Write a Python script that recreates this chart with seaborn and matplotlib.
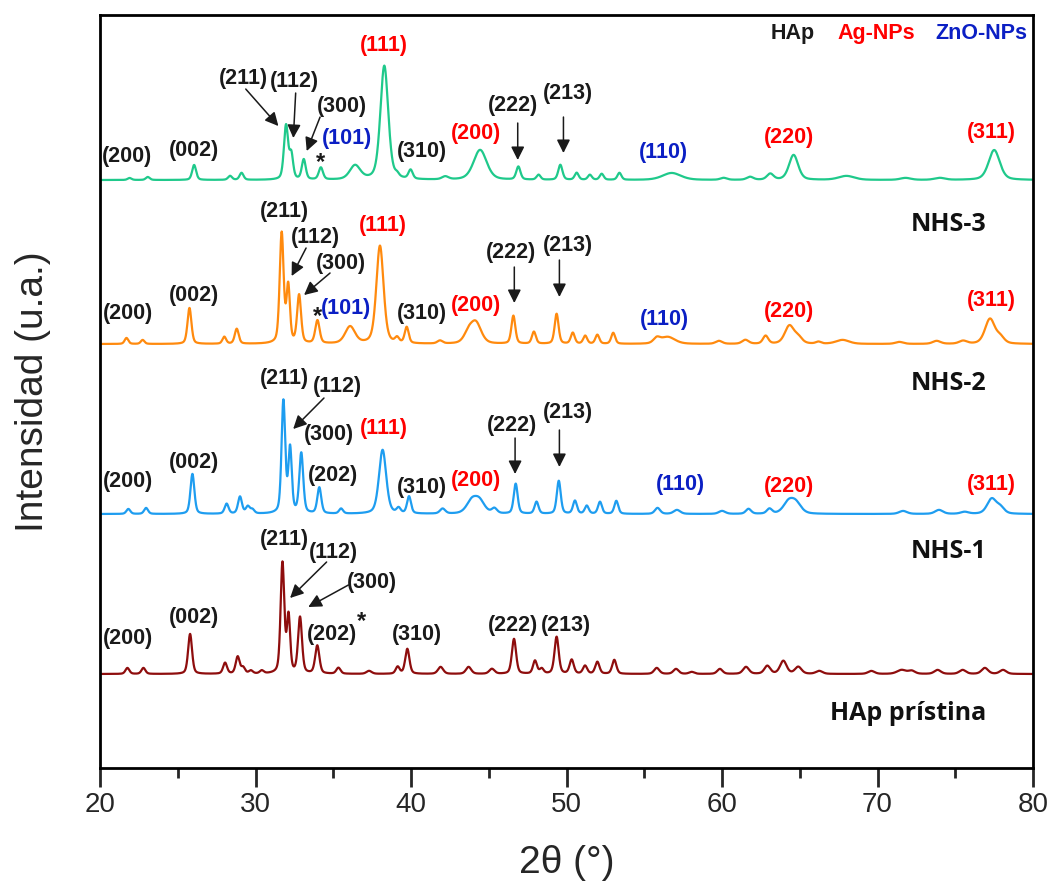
import numpy as np
import pandas as pd
import seaborn as sns
import matplotlib.pyplot as plt

# peak tables: position (2theta), height, FWHM
# intensity in arbitrary units, each trace shifted by its offset
nhs3_pos = [21.9, 23.07, 26.05, 28.36, 29.1, 31.96, 32.3, 33.1, 34.2, 36.4, 38.28, 39.1, 39.97, 42.2,
            44.44, 46.9, 48.2, 49.6, 50.65, 51.5, 52.26, 53.4, 56.76, 60.1, 61.8, 63.1, 64.6, 68.0,
            71.8, 74.0, 77.5]
nhs3_h = [2, 3, 15, 4, 7, 54, 24, 20, 12, 14, 114, 3, 9, 3, 30, 13, 5, 15, 7, 5, 6, 7, 7, 2, 3, 6,
          25, 4, 2, 2, 30]
nhs3_w = [0.3, 0.3, 0.3, 0.3, 0.3, 0.32, 0.28, 0.3, 0.32, 0.8, 0.6, 0.3, 0.32, 0.5, 1.0, 0.32,
          0.3, 0.32, 0.3, 0.3, 0.3, 0.3, 1.4, 0.5, 0.5, 0.5, 0.7, 1.2, 0.8, 0.8, 0.85]

nhs2_pos = [21.7, 22.74, 25.75, 27.99, 28.79, 31.68, 32.1, 32.8, 33.98, 36.08, 38.0, 39.1, 39.72,
            41.86, 43.7, 44.18, 46.58, 47.9, 49.36, 50.4, 51.2, 51.98, 53.0, 55.8, 56.5, 59.8,
            61.5, 62.8, 64.33, 64.9, 66.2, 67.75, 71.4, 73.8, 75.5, 77.23, 77.9]
nhs2_h = [6, 4, 36, 7, 15, 110, 56, 48, 23, 17, 98, 5, 16, 3, 10, 20, 28, 12, 30, 11, 8, 9, 11,
          5, 7, 3, 4, 8, 18, 6, 2, 4, 2, 3, 3, 25, 6]
nhs2_w = [0.28, 0.28, 0.3, 0.28, 0.3, 0.3, 0.26, 0.3, 0.33, 0.75, 0.55, 0.3, 0.3, 0.4, 0.7, 0.8,
          0.3, 0.3, 0.3, 0.3, 0.3, 0.3, 0.3, 0.5, 1.1, 0.5, 0.5, 0.4, 0.7, 0.6, 0.4, 1.0,
          0.6, 0.6, 0.6, 0.75, 0.6]

nhs1_pos = [21.82, 22.96, 25.94, 28.14, 29.0, 29.5, 29.8, 31.79, 32.22, 32.94, 34.1, 35.5, 38.17,
            39.2, 39.87, 42.03, 43.9, 44.4, 45.36, 46.73, 48.07, 49.5, 50.54, 51.3, 52.15, 53.2,
            55.85, 57.1, 60.0, 61.7, 63.05, 64.27, 64.75, 71.64, 73.95, 75.6, 77.34, 77.9]
nhs1_h = [5, 6, 40, 10, 17, 7, 4, 112, 64, 60, 26, 5, 64, 5, 17, 5, 12, 12, 5, 30, 12, 33, 13, 8,
          12, 13, 6, 4, 3, 5, 5, 11, 10, 3, 4, 2, 15, 6]
nhs1_w = [0.3, 0.3, 0.3, 0.3, 0.3, 0.3, 0.3, 0.28, 0.26, 0.3, 0.3, 0.3, 0.55, 0.3, 0.3, 0.4, 0.8,
          0.8, 0.4, 0.3, 0.3, 0.3, 0.3, 0.3, 0.3, 0.3, 0.4, 0.5, 0.5, 0.4, 0.4, 0.8, 0.8, 0.6,
          0.6, 0.6, 0.7, 0.6]

hap_pos = [21.76, 22.79, 25.79, 28.04, 28.85, 29.2, 29.7, 30.4, 31.73, 32.12, 32.86, 33.97, 35.33,
           37.3, 39.14, 39.76, 41.9, 43.7, 45.2, 46.62, 47.97, 48.4, 49.36, 50.33, 51.19, 51.98,
           53.07, 55.8, 57.04, 58.05, 59.86, 61.54, 62.91, 63.94, 64.9, 66.25, 69.6, 71.55, 72.2,
           73.86, 75.47, 76.9, 78.07]
hap_h = [6, 6, 40, 11, 17, 6, 3, 3, 110, 56, 56, 28, 6, 3, 7, 25, 7, 7, 5, 35, 13, 5, 37, 14, 8,
         12, 14, 6, 5, 2, 5, 7, 8, 13, 7, 3, 3, 4, 3, 4, 4, 6, 4]
hap_w = [0.3, 0.3, 0.3, 0.3, 0.3, 0.3, 0.3, 0.3, 0.28, 0.25, 0.3, 0.32, 0.32, 0.4, 0.3, 0.32,
         0.4, 0.4, 0.4, 0.32, 0.3, 0.3, 0.32, 0.32, 0.32, 0.32, 0.32, 0.4, 0.4, 0.4, 0.4, 0.45,
         0.45, 0.5, 0.5, 0.5, 0.5, 0.7, 0.5, 0.5, 0.5, 0.5, 0.5]

offsets = {"NHS-3": 588, "NHS-2": 424, "NHS-1": 254, "HAp prístina": 94}
colors = {"NHS-3": "#1fc98b", "NHS-2": "#ff8a0e", "NHS-1": "#1e9df0", "HAp prístina": "#8e0d0d"}

RED = "#ff0000"
BLUE = "#0b1fc4"


def profile(x, pos, h, w):
    # pseudo-voigt sum
    y = np.zeros_like(x)
    for p, a, f in zip(pos, h, w):
        g = np.exp(-4 * np.log(2) * ((x - p) / f) ** 2)
        l = 1.0 / (1.0 + (2 * (x - p) / f) ** 2)
        y += a * (0.6 * g + 0.4 * l)
    return y


x = np.linspace(20, 80, 6001)
traces = {"NHS-3": (nhs3_pos, nhs3_h, nhs3_w),
          "NHS-2": (nhs2_pos, nhs2_h, nhs2_w),
          "NHS-1": (nhs1_pos, nhs1_h, nhs1_w),
          "HAp prístina": (hap_pos, hap_h, hap_w)}

sns.set_theme(style="ticks")
plt.rcParams['font.family'] = ['Liberation Sans', 'DejaVu Sans']

fig = plt.figure(figsize=(10.52, 8.85), dpi=100)
ax = fig.add_axes([0.0951, 0.1322, 0.8869, 0.8508])

for name, (pos, h, w) in traces.items():
    df = pd.DataFrame({"x": x, "y": profile(x, pos, h, w) + offsets[name]})
    sns.lineplot(data=df, x="x", y="y", ax=ax, color=colors[name], lw=1.6,
                 estimator=None, sort=False)

ax.set_xlim(20, 80)
ax.set_ylim(0, 753)
ax.set_yticks([])
ax.set_xticks(np.arange(20, 81, 10))
ax.set_xticks(np.arange(25, 80, 10), minor=True)
ax.tick_params(axis='x', which='major', length=14, width=2, labelsize=20, pad=3)
ax.tick_params(axis='x', which='minor', length=7, width=2, bottom=True)
for s in ax.spines.values():
    s.set_linewidth(2)
    s.set_color('black')
ax.set_xlabel("2θ (°)", fontsize=28, labelpad=20)
ax.set_ylabel("Intensidad (u.a.)", fontsize=28, labelpad=35)

lab = dict(fontsize=15.5, fontweight='bold', ha='center', va='center')

# peak labels: (text, x, y, color)
peak_labels = [
    # NHS-3
    ("(200)", 21.74, 612, 'k'), ("(002)", 26.05, 618, 'k'), ("(211)", 29.2, 690, 'k'),
    ("(112)", 32.48, 687, 'k'), ("(300)", 35.56, 662, 'k'), ("(101)", 35.86, 630, BLUE),
    ("(111)", 38.28, 723, RED), ("(310)", 40.69, 617, 'k'), ("(200)", 44.16, 635, RED),
    ("(222)", 46.58, 663, 'k'), ("(213)", 50.1, 675, 'k'), ("(110)", 56.23, 616, BLUE),
    ("(220)", 64.33, 631, RED), ("(311)", 77.3, 636, RED),
    # NHS-2
    ("(200)", 21.82, 455, 'k'), ("(002)", 26.06, 473, 'k'), ("(211)", 31.85, 557, 'k'),
    ("(112)", 33.83, 531, 'k'), ("(300)", 35.47, 505, 'k'), ("(101)", 35.82, 460, BLUE),
    ("(111)", 38.18, 543, RED), ("(310)", 40.68, 455, 'k'), ("(200)", 44.16, 463, RED),
    ("(222)", 46.43, 516, 'k'), ("(213)", 50.1, 523, 'k'), ("(110)", 56.27, 449, BLUE),
    ("(220)", 64.33, 457, RED), ("(311)", 77.3, 468, RED),
    # NHS-1
    ("(200)", 21.82, 287, 'k'), ("(002)", 26.06, 306, 'k'), ("(211)", 31.85, 390, 'k'),
    ("(112)", 35.25, 382, 'k'), ("(300)", 34.74, 334, 'k'), ("(202)", 35.0, 293, 'k'),
    ("(111)", 38.26, 340, RED), ("(310)", 40.68, 281, 'k'), ("(200)", 44.16, 288, RED),
    ("(222)", 46.51, 343, 'k'), ("(213)", 50.1, 356, 'k'), ("(110)", 57.3, 284, BLUE),
    ("(220)", 64.33, 282, RED), ("(311)", 77.3, 284, RED),
    # HAp
    ("(200)", 21.82, 130, 'k'), ("(002)", 26.06, 151, 'k'), ("(211)", 31.85, 229, 'k'),
    ("(112)", 35.0, 216, 'k'), ("(300)", 37.47, 186, 'k'), ("(202)", 34.93, 134, 'k'),
    ("(310)", 40.36, 134, 'k'), ("(222)", 46.57, 143, 'k'), ("(213)", 49.97, 143, 'k'),
]
for t, xx, yy, c in peak_labels:
    ax.text(xx, yy, t, color=c, **lab)

# asterisks
for xx, yy in [(34.15, 606), (33.97, 452), (36.82, 146)]:
    ax.text(xx, yy, "*", fontsize=17, fontweight='bold', ha='center', va='center', color='k')

# arrows: (tail, head)
arrows = [
    ((29.37, 679), (31.47, 642)), ((32.58, 675), (32.43, 630)), ((34.15, 651), (33.29, 617)),
    ((46.86, 645), (46.86, 608)), ((49.8, 651), (49.8, 615)),
    ((33.25, 520), (32.32, 492)), ((34.79, 495), (33.12, 473)),
    ((46.64, 501), (46.64, 465)), ((49.54, 508), (49.54, 471)),
    ((34.4, 370), (32.42, 339)), ((46.69, 330), (46.69, 294)), ((49.54, 338), (49.54, 301)),
    ((34.57, 206), (32.22, 170)), ((35.97, 183), (33.39, 161)),
]
for tail, head in arrows:
    ax.annotate("", xy=head, xytext=tail,
                arrowprops=dict(arrowstyle='-|>', color='k', lw=1.1, mutation_scale=20,
                                shrinkA=0, shrinkB=0))

# phase key
ax.text(64.56, 735, "HAp", color='k', **lab)
ax.text(69.9, 735, "Ag-NPs", color=RED, **lab)
ax.text(76.7, 735, "ZnO-NPs", color=BLUE, **lab)

# sample names
name_y = {"NHS-3": 544, "NHS-2": 385, "NHS-1": 217, "HAp prístina": 55}
for name, yy in name_y.items():
    ax.text(76.98, yy, name, fontsize=18, fontweight='bold', ha='right', va='center',
            color='#111111', family=['Open Sans', 'DejaVu Sans'])

fig.savefig("out.png", dpi=100)
